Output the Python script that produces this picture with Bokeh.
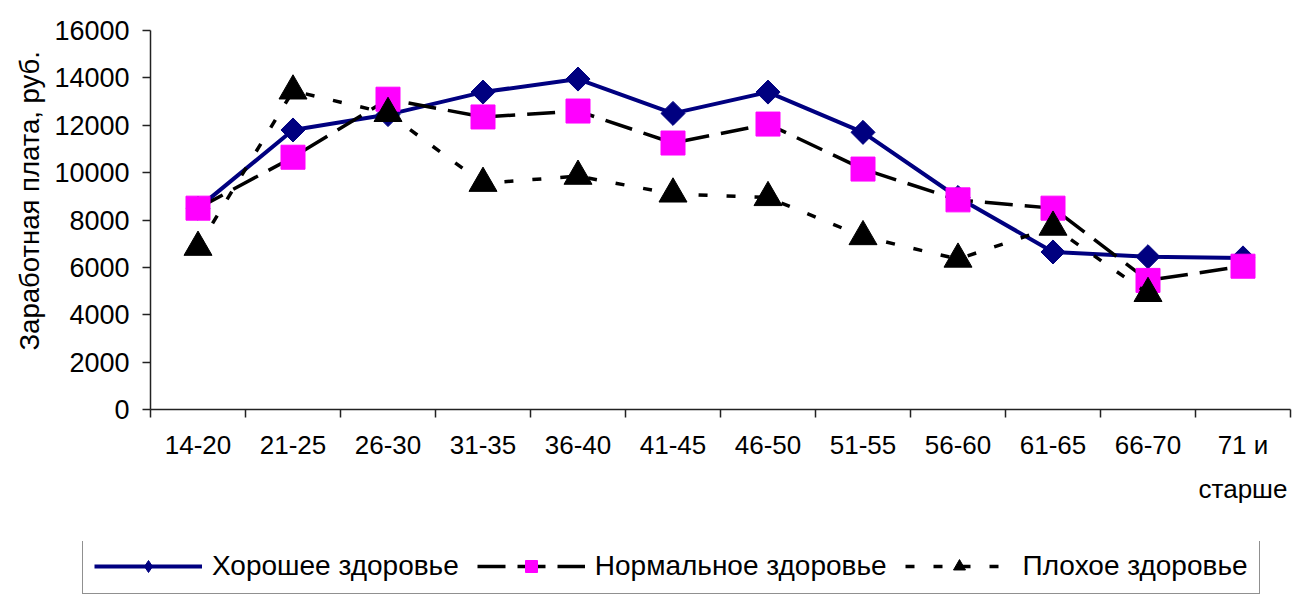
import numpy as np
from bokeh.plotting import figure
from bokeh.layouts import column
from bokeh.models import Range1d, FixedTicker, Legend, LegendItem, Title
from bokeh.embed import file_html
from bokeh.resources import INLINE

# ---- data ----
categories = ["14-20", "21-25", "26-30", "31-35", "36-40", "41-45",
              "46-50", "51-55", "56-60", "61-65", "66-70", "71 и\nстарше"]
good_health = [8500, 11800, 12450, 13400, 13950, 12500, 13400, 11700, 8950, 6650, 6450, 6400]
normal_health = [8500, 10650, 13100, 12350, 12600, 11250, 12050, 10150, 8850, 8500, 5450, 6050]
poor_health = [6850, 13450, 12500, 9550, 9850, 9100, 8950, 7300, 6350, 7700, 4900, np.nan]
y_ticks = [0, 2000, 4000, 6000, 8000, 10000, 12000, 14000, 16000]
series_names = ["Хорошее здоровье", "Нормальное здоровье", "Плохое здоровье"]
y_title = "Заработная плата, руб."

FONT = "Liberation Sans"

# series styles (shared by plot and legend)
line_styles = [
    dict(line_color="#000080", line_width=4),
    dict(line_color="black", line_width=3.5, line_dash="28 12"),
    dict(line_color="black", line_width=3.5, line_dash="9 19"),
]
marker_styles = [
    dict(marker="square", angle=np.pi / 4, size=17, fill_color="#000080", line_color="#000080"),
    dict(marker="square", size=24, fill_color="#FF00FF", line_color="#FF00FF"),
    dict(marker="triangle", size=28, fill_color="black", line_color="black"),
]
legend_marker_styles = [
    dict(marker="diamond", size=22, fill_color="#000080", line_color="#000080"),
    dict(marker="square", size=18, fill_color="#FF00FF", line_color="#FF00FF"),
    dict(marker="triangle", size=22, fill_color="black", line_color="black"),
]

n = len(categories)
x = np.arange(n) + 0.5

p = figure(width=1295, height=541, output_backend="svg", toolbar_location=None,
           x_range=Range1d(0, n), y_range=Range1d(y_ticks[0], y_ticks[-1]),
           min_border_left=150, min_border_right=5, min_border_top=30,
           min_border_bottom=132)
p.frame_align = False
p.outline_line_color = None
p.background_fill_color = "white"
p.border_fill_color = "white"
p.xgrid.visible = False
p.ygrid.visible = False

for ys, ls, ms in zip([good_health, normal_health, poor_health], line_styles, marker_styles):
    p.line(x, ys, **ls)
    p.scatter(x, ys, **ms)

# ---- x axis ----
xa = p.xaxis[0]
xa.ticker = FixedTicker(ticks=list(x), minor_ticks=list(range(n + 1)))
xa.major_label_overrides = {float(xi): c for xi, c in zip(x, categories)}
xa.major_tick_out = 0
xa.major_tick_in = 0
xa.minor_tick_out = 8
xa.minor_tick_in = 0
xa.minor_tick_line_color = "#222222"
xa.minor_tick_line_width = 1.5
xa.axis_line_color = "#222222"
xa.axis_line_width = 1.5
xa.major_label_standoff = 12
xa.major_label_text_font = FONT
xa.major_label_text_font_size = "26px"
xa.major_label_text_color = "black"
xa.major_label_text_line_height = 1.49

# ---- y axis ----
ya = p.yaxis[0]
ya.ticker = FixedTicker(ticks=y_ticks)
ya.major_tick_out = 8
ya.major_tick_in = 0
ya.minor_tick_out = 0
ya.minor_tick_in = 0
ya.major_tick_line_color = "#222222"
ya.major_tick_line_width = 1.5
ya.axis_line_color = "#222222"
ya.axis_line_width = 1.5
ya.major_label_standoff = 13
ya.major_label_text_font = FONT
ya.major_label_text_font_size = "27px"
ya.major_label_text_color = "black"

p.add_layout(Title(text=y_title, align="left", offset=59, standoff=13,
                   text_font=FONT, text_font_size="27.5px",
                   text_font_style="normal", text_color="black"), "left")

# ---- legend strip (separate figure so the box may be wider than the frame) ----
LH = 53
p2 = figure(width=1295, height=LH, output_backend="svg", toolbar_location=None,
            x_range=Range1d(0, 1), y_range=Range1d(0, 1),
            min_border_left=0, min_border_right=0, min_border_top=0, min_border_bottom=0,
            x_axis_location=None, y_axis_location=None)
p2.frame_align = False
p2.outline_line_color = None
p2.xgrid.visible = False
p2.ygrid.visible = False
items = []
for name, ls, ms in zip(series_names, line_styles, legend_marker_styles):
    r_line = p2.line([-5, -4], [-5, -4], **ls)
    r_mark = p2.scatter([-5], [-5], **ms)
    items.append(LegendItem(label=name, renderers=[r_line, r_mark]))

legend = Legend(items=items, orientation="horizontal", location=(82, 0))
legend.label_text_font = FONT
legend.label_text_font_size = "28px"
legend.label_text_color = "black"
legend.glyph_width = 108
legend.glyph_height = 30
legend.label_standoff = 10
legend.spacing = 18
legend.padding = 11
legend.margin = 0
legend.border_line_color = "#222222"
legend.border_line_width = 1.5
legend.background_fill_color = "white"
legend.background_fill_alpha = 1.0
p2.add_layout(legend)

open("out.html", "w").write(file_html(column(p, p2, spacing=0), INLINE))
